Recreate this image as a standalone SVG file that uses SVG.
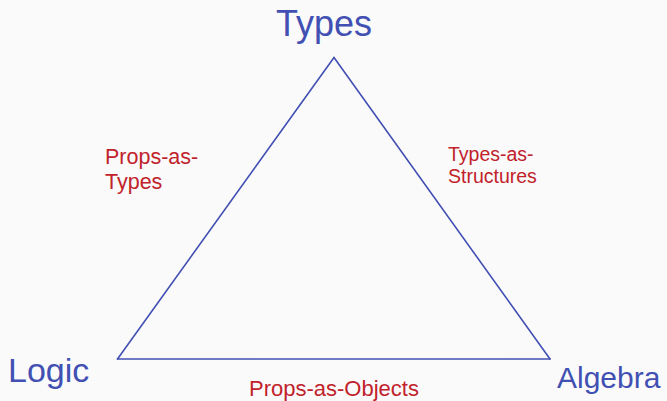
<svg xmlns="http://www.w3.org/2000/svg" width="667" height="401" viewBox="0 0 667 401">
  <style>
    .vertex { fill: #4150b2; font-family: "Liberation Sans", Arial, sans-serif; }
    .edge-label { fill: #c1222b; font-family: "Liberation Sans", Arial, sans-serif; }
    .side { stroke: #4150b2; stroke-width: 1.6; fill: none; stroke-linecap: round; }
  </style>
  <rect width="667" height="401" fill="#fafafa"/>

  <!-- triangle sides -->
  <g id="connectors">
    <line class="side" x1="334" y1="57.5" x2="117.5" y2="359"/>
    <line class="side" x1="334" y1="57.5" x2="550" y2="359"/>
    <line class="side" x1="117.5" y1="359" x2="550" y2="359"/>
  </g>

  <!-- corners -->
  <g id="types">
    <text class="vertex" x="276" y="36" font-size="36">Types</text>
  </g>
  <g id="logic">
    <text class="vertex" x="8" y="382" font-size="34">Logic</text>
  </g>
  <g id="algebra">
    <text class="vertex" x="557" y="388" font-size="30">Algebra</text>
  </g>

  <!-- side labels -->
  <g id="props-as-types">
    <text class="edge-label" font-size="21.5"><tspan x="105" y="164">Props-as-</tspan><tspan x="105" y="189">Types</tspan></text>
  </g>
  <g id="types-as-structures">
    <text class="edge-label" font-size="19.5"><tspan x="448" y="161">Types-as-</tspan><tspan x="448" y="183">Structures</tspan></text>
  </g>
  <g id="props-as-objects">
    <text class="edge-label" x="249" y="396" font-size="22">Props-as-Objects</text>
  </g>
</svg>
